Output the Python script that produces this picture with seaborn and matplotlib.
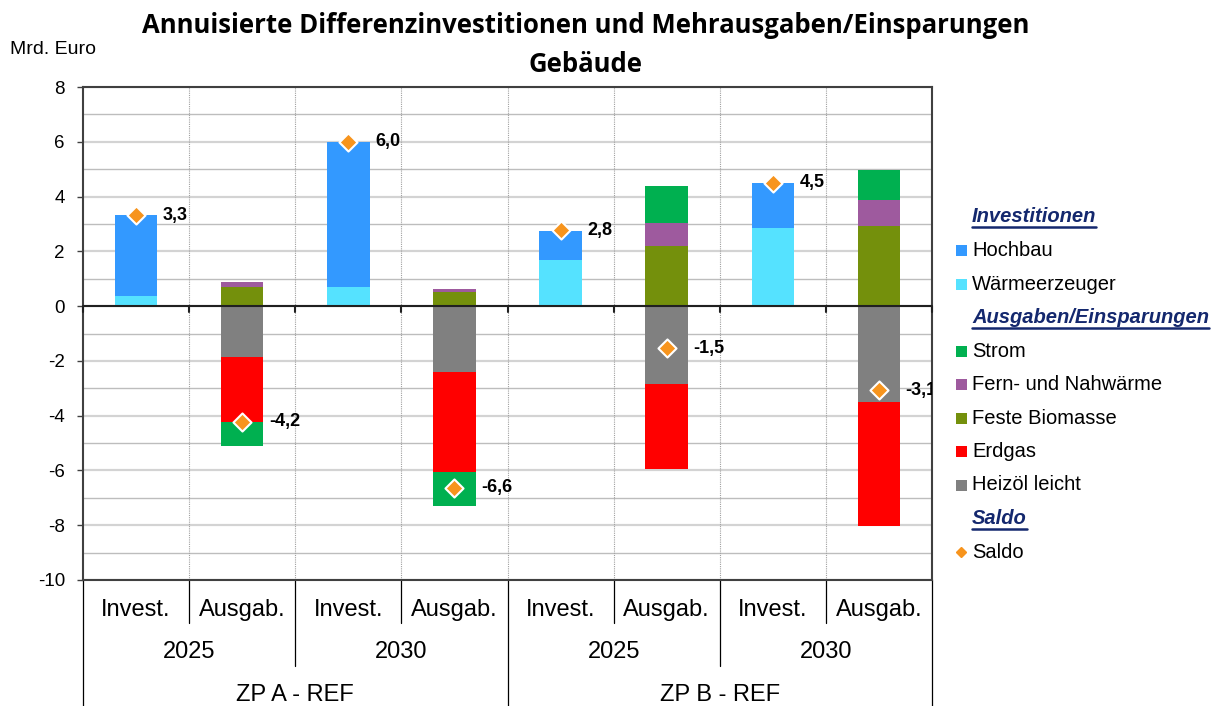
import matplotlib
matplotlib.use("Agg")
import matplotlib.pyplot as plt
from matplotlib.lines import Line2D
from matplotlib.patches import Rectangle
from matplotlib.transforms import blended_transform_factory
import seaborn as sns
import numpy as np

# --- data (Mrd. Euro) ---
bar_labels = ["Invest.", "Ausgab.", "Invest.", "Ausgab.", "Invest.", "Ausgab.", "Invest.", "Ausgab."]
years = ["2025", "2030", "2025", "2030"]
groups = ["ZP A - REF", "ZP B - REF"]

hochbau = [2.94, 0, 5.31, 0, 1.06, 0, 1.64, 0]
waermeerzeuger = [0.38, 0, 0.69, 0, 1.69, 0, 2.86, 0]
strom = [0, -0.87, 0, -1.24, 0, 1.36, 0, 1.10]
fernwaerme = [0, 0.19, 0, 0.10, 0, 0.81, 0, 0.96]
biomasse = [0, 0.68, 0, 0.53, 0, 2.21, 0, 2.91]
erdgas = [0, -2.37, 0, -3.63, 0, -3.08, 0, -4.55]
heizoel = [0, -1.87, 0, -2.42, 0, -2.85, 0, -3.49]
saldo = [3.32, -4.23, 6.0, -6.63, 2.77, -1.54, 4.5, -3.07]

series = {
    "Hochbau": hochbau,
    "Wärmeerzeuger": waermeerzeuger,
    "Strom": strom,
    "Fern- und Nahwärme": fernwaerme,
    "Feste Biomasse": biomasse,
    "Erdgas": erdgas,
    "Heizöl leicht": heizoel,
}
colors = {
    "Hochbau": "#3399FF",
    "Wärmeerzeuger": "#55E2FF",
    "Strom": "#00B050",
    "Fern- und Nahwärme": "#9E5A9E",
    "Feste Biomasse": "#74900C",
    "Erdgas": "#FF0000",
    "Heizöl leicht": "#808080",
}
# Excel stacking order (first is next to zero)
stack_order = ["Heizöl leicht", "Erdgas", "Feste Biomasse", "Fern- und Nahwärme",
               "Strom", "Wärmeerzeuger", "Hochbau"]
saldo_color = "#F7941D"
head_color = "#14286E"

sns.set_theme(style="white")
plt.rcParams["font.family"] = ["Liberation Sans", "DejaVu Sans"]
plt.rcParams["text.color"] = "black"
plt.rcParams["ytick.color"] = "black"
plt.rcParams["axes.unicode_minus"] = False

W, H = 1227, 706
fig = plt.figure(figsize=(W / 100, H / 100), dpi=100)
ax = fig.add_axes([83 / W, 1 - 580 / H, (932 - 83) / W, 493 / H])

x = np.arange(len(bar_labels))
pos = np.zeros(len(x))
neg = np.zeros(len(x))
for name in stack_order:
    vals = np.array(series[name], dtype=float)
    bottom = np.where(vals >= 0, pos, neg)
    ax.bar(x, vals, 0.4, bottom=bottom, color=colors[name], linewidth=0, zorder=3)
    pos += np.clip(vals, 0, None)
    neg += np.clip(vals, None, 0)

sns.scatterplot(x=x, y=saldo, marker="D", s=85, color=saldo_color, edgecolor="white",
                linewidth=1.5, zorder=5, ax=ax, legend=False)
for xi, v in zip(x, saldo):
    ax.annotate(f"{v:.1f}".replace(".", ","), (xi + 0.2, v), xytext=(4, 0),
                textcoords="offset points", ha="left", va="center",
                fontsize=13, fontweight="bold", color="black", zorder=6,
                annotation_clip=False, clip_on=True)

ax.set_xlim(-0.5, 7.5)
ax.set_ylim(-10, 8)
ax.set_yticks(range(-10, 9, 2))
ax.set_yticks(range(-10, 9, 1), minor=True)
ax.set_xticks([])
ax.tick_params(axis="y", which="major", labelsize=13.5, length=4, width=1,
               color="#404040", left=True, pad=9)
ax.tick_params(axis="y", which="minor", length=0)
ax.grid(axis="y", which="major", color="#D3D3D3", lw=1.6, zorder=0)
ax.grid(axis="y", which="minor", color="#BDBDBD", lw=1.0, zorder=0)
for b in np.arange(0.5, 7.5, 1):
    ax.axvline(b, color="#A0A0A0", lw=0.8, ls=(0, (1, 1)), zorder=1)
for s in ax.spines.values():
    s.set_color("#404040")
    s.set_linewidth(1.5)
ax.axhline(0, color="#202020", lw=1.5, zorder=4)
for b in np.arange(-0.5, 8, 1):
    ax.plot([b, b], [0, -0.22], color="#202020", lw=1.5, zorder=4, clip_on=False)

# --- category axis below ---
tr = blended_transform_factory(ax.transData, ax.transAxes)
y_short, y_year, y_grp = -43 / 493, -86 / 493, -130 / 493
for b in [0.5, 2.5, 4.5, 6.5]:
    ax.add_line(Line2D([b, b], [0, y_short], transform=tr, color="black", lw=0.9, clip_on=False))
for b in [1.5, 5.5]:
    ax.add_line(Line2D([b, b], [0, y_year], transform=tr, color="black", lw=0.9, clip_on=False))
for b in [-0.5, 3.5, 7.5]:
    ax.add_line(Line2D([b, b], [0, y_grp], transform=tr, color="black", lw=0.9, clip_on=False))
for xi, lab in zip(x, bar_labels):
    ax.text(xi, -30 / 493, lab, transform=tr, ha="center", va="center", fontsize=17)
for i, yr in enumerate(years):
    ax.text(2 * i + 0.5, -72 / 493, yr, transform=tr, ha="center", va="center", fontsize=17)
for i, g in enumerate(groups):
    ax.text(4 * i + 1.5, -115 / 493, g, transform=tr, ha="center", va="center", fontsize=17)

# --- titles ---
fig.text(586 / W, 1 - 45 / H, "Annuisierte Differenzinvestitionen und Mehrausgaben/Einsparungen\nGebäude",
         ha="center", va="center", fontsize=18.5, fontweight="bold", family="Open Sans",
         linespacing=1.55, color="black")
fig.text(10 / W, 1 - 50 / H, "Mrd. Euro", ha="left", va="center", fontsize=14)

# --- legend (manual, with headings) ---
legend_rows = [
    ("head", "Investitionen"),
    ("item", "Hochbau"),
    ("item", "Wärmeerzeuger"),
    ("head", "Ausgaben/Einsparungen"),
    ("item", "Strom"),
    ("item", "Fern- und Nahwärme"),
    ("item", "Feste Biomasse"),
    ("item", "Erdgas"),
    ("item", "Heizöl leicht"),
    ("head", "Saldo"),
    ("saldo", "Saldo"),
]
heads = []
for i, (kind, lab) in enumerate(legend_rows):
    yp = 217 + i * 33.5
    yf = 1 - yp / H
    if kind == "head":
        t = fig.text(972 / W, yf, lab, ha="left", va="center", fontsize=14.5,
                     fontweight="bold", style="italic", color=head_color)
        heads.append(t)
    else:
        fig.text(972 / W, yf, lab, ha="left", va="center", fontsize=14.5, color="black")
        if kind == "item":
            fig.add_artist(Rectangle((956 / W, yf - 5.5 / H), 11 / W, 11 / H,
                                     transform=fig.transFigure, color=colors[lab], lw=0))
        else:
            fig.add_artist(Line2D([961 / W], [yf], marker="D", markersize=5.5,
                                  color=saldo_color, transform=fig.transFigure, lw=0))

fig.canvas.draw()
inv = fig.transFigure.inverted()
for t in heads:
    bb = t.get_window_extent()
    (x0, y0), (x1, _) = inv.transform([(bb.x0, bb.y0), (bb.x1, bb.y0)])
    fig.add_artist(Line2D([x0, x1], [y0 - 1 / H, y0 - 1 / H], color=head_color, lw=1.8,
                          transform=fig.transFigure))

fig.savefig("out.png", dpi=100)
